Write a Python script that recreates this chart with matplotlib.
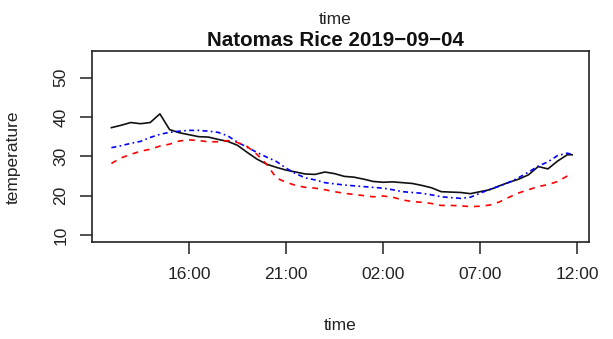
import matplotlib
matplotlib.use("Agg")
import matplotlib.pyplot as plt
import matplotlib.dates as mdates
import matplotlib.transforms as mtransforms
import pandas as pd

plt.rcParams['font.family'] = ['Liberation Sans', 'DejaVu Sans']

# Half-hourly readings, 2019-09-04 12:00 to 2019-09-05 11:45
times = list(pd.date_range("2019-09-04 12:00", "2019-09-05 11:30", freq="30min")) + [pd.Timestamp("2019-09-05 11:45")]

temp_black = [37.3, 37.9, 38.6, 38.3, 38.6, 40.8, 36.8, 36.0, 35.5, 35.0,
              34.9, 34.3, 33.8, 32.8, 31.0, 29.3, 28.0, 27.2, 26.5, 26.0,
              25.5, 25.4, 26.0, 25.6, 24.9, 24.7, 24.2, 23.6, 23.4, 23.5,
              23.3, 23.1, 22.6, 22.0, 21.0, 20.9, 20.8, 20.5, 21.0, 21.5,
              22.5, 23.4, 24.2, 25.3, 27.4, 26.8, 28.8, 30.4, 30.4]

temp_blue = [32.2, 32.7, 33.3, 33.8, 34.8, 35.6, 36.1, 36.4, 36.6, 36.6,
             36.4, 36.1, 35.2, 33.6, 32.3, 31.0, 29.8, 28.7, 27.0, 25.6,
             24.5, 24.0, 23.3, 23.0, 22.7, 22.5, 22.3, 22.1, 21.9, 21.5,
             21.0, 20.8, 20.6, 20.2, 19.7, 19.5, 19.3, 19.6, 20.6, 21.6,
             22.4, 23.4, 24.6, 26.0, 27.5, 28.6, 30.2, 30.8, 30.5]

temp_red = [28.2, 29.6, 30.5, 31.3, 31.8, 32.6, 33.1, 33.9, 34.2, 34.0,
            33.7, 33.7, 34.0, 33.5, 32.5, 30.5, 28.0, 24.5, 23.4, 22.6,
            22.1, 21.9, 21.5, 21.0, 20.6, 20.3, 20.0, 19.7, 19.9, 19.6,
            18.9, 18.5, 18.3, 18.0, 17.5, 17.5, 17.4, 17.2, 17.3, 17.6,
            18.4, 19.6, 20.7, 21.5, 22.3, 22.8, 23.6, 25.0, 25.6]

y_ticks = [10, 20, 30, 40, 50]
x_ticks = ["2019-09-04 16:00", "2019-09-04 21:00", "2019-09-05 02:00",
           "2019-09-05 07:00", "2019-09-05 12:00"]

W, H = 613, 339
fig = plt.figure(figsize=(W / 100, H / 100), dpi=100)
ax = fig.add_axes([92 / W, 97 / H, 497 / W, 191 / H])

ax.plot(times, temp_black, color="#111111", lw=1.2, ls="-")
ax.plot(times, temp_blue, color="blue", lw=1.2, ls=(0, (3, 2, 1, 2)))
ax.plot(times, temp_red, color="red", lw=1.2, ls=(0, (3.5, 3.5)))

ax.set_xlim(pd.Timestamp("2019-09-04 11:00"), pd.Timestamp("2019-09-05 12:37"))
ax.set_ylim(8.2, 56.8)
ax.set_yticks(y_ticks)
ax.set_xticks([pd.Timestamp(t) for t in x_ticks])
ax.xaxis.set_major_formatter(mdates.DateFormatter("%H:%M"))

for s in ax.spines.values():
    s.set_linewidth(1.2)
    s.set_color("#222222")

ax.tick_params(axis="x", direction="out", length=8.6, width=1.1, pad=9.5, labelsize=12.5, colors="#222222")
ax.tick_params(axis="y", direction="out", length=8.6, width=1.1, labelleft=False, color="#222222")

# vertical y tick labels, R style
ylab_tr = mtransforms.blended_transform_factory(fig.transFigure, ax.transData)
for v in y_ticks:
    ax.text(61 / W, v, str(v), transform=ylab_tr, rotation=90, ha="center", va="center",
            fontsize=12.5, color="#222222", clip_on=False)

fig.text(335 / W, 1 - 19 / H, "time", ha="center", va="center", fontsize=12.5, color="#222222")
fig.text(335 / W, 1 - 41 / H, "Natomas Rice 2019\u221209\u221204", ha="center", va="center",
         fontsize=14.8, fontweight="bold", color="#111111")
fig.text(340 / W, 1 - 326 / H, "time", ha="center", va="center", fontsize=12.5, color="#222222")
fig.text(13 / W, 1 - 157 / H, "temperature", ha="center", va="center", rotation=90,
         fontsize=12.5, color="#222222")

fig.savefig("out.png", dpi=100)
